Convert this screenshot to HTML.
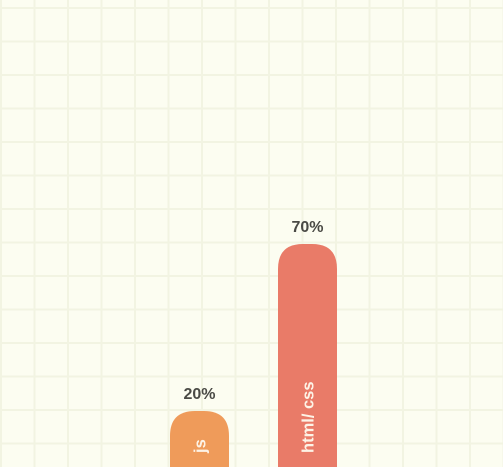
<!DOCTYPE html>
<html><head><meta charset="utf-8"><style>
html,body{margin:0;padding:0;background:#fcfdf1;width:503px;height:467px;overflow:hidden}
svg{display:block}
</style></head><body>
<svg id="chart" width="503" height="467" xmlns="http://www.w3.org/2000/svg">
<rect width="503" height="467" fill="#fcfdf1"/>
<g id="grid"></g>
<g id="bars"></g>
</svg>
<script>
const categories = ["js", "html/ css"];
const values = [20, 70];
const valueLabels = ["20%", "70%"];
const colors = ["#ef9b5a", "#e97b68"];
const NS = "http://www.w3.org/2000/svg";
const base = 477.8, scale = 3.34;
function y(v){ return base - v*scale; }
function x(i){ return 170 + i*108; }
const grid = document.getElementById('grid');
for (let k=0;k<16;k++){
  const gx = 1 + k*33.5;
  const l = document.createElementNS(NS,'rect');
  l.setAttribute('x', gx-1); l.setAttribute('y',0); l.setAttribute('width',2); l.setAttribute('height',467);
  l.setAttribute('fill','#f2f4e2');
  
  
  grid.appendChild(l);
}
for (let k=0;k<14;k++){
  const gy = 8 + k*33.5;
  const l = document.createElementNS(NS,'rect');
  l.setAttribute('x',0); l.setAttribute('y',gy-1); l.setAttribute('width',503); l.setAttribute('height',2);
  l.setAttribute('fill','#f2f4e2');
  
  
  grid.appendChild(l);
}
const bars = document.getElementById('bars');
categories.forEach((c,i)=>{
  const bx = x(i), by = y(values[i]), w = 59;
  const p = document.createElementNS(NS,'path');
  const r = 25;
  p.setAttribute('d', `M${bx},467 L${bx},${by+r} Q${bx},${by} ${bx+r},${by} L${bx+w-r},${by} Q${bx+w},${by} ${bx+w},${by+r} L${bx+w},467 Z`);
  p.setAttribute('fill', colors[i]);
  
  
  bars.appendChild(p);
  const t = document.createElementNS(NS,'text');
  t.setAttribute('x', bx+w/2); t.setAttribute('y', by-12);
  t.setAttribute('text-anchor','middle');
  t.setAttribute('font-family','Liberation Sans, sans-serif');
  t.setAttribute('font-weight','bold'); t.setAttribute('font-size','16');
  t.setAttribute('fill','#4a4a45');
  t.textContent = valueLabels[i];
  
  
  bars.appendChild(t);
  const n = document.createElementNS(NS,'text');
  const cx = bx+w/2+6, cy = 453;
  n.setAttribute('x', cx); n.setAttribute('y', cy);
  n.setAttribute('transform', `rotate(-90 ${cx} ${cy})`);
  n.setAttribute('font-family','Liberation Sans, sans-serif');
  n.setAttribute('font-weight','bold'); n.setAttribute('font-size','16.5');
  n.setAttribute('fill','#fdf3e6');
  n.textContent = c;
  
  
  bars.appendChild(n);
});
</script>
</body></html>
